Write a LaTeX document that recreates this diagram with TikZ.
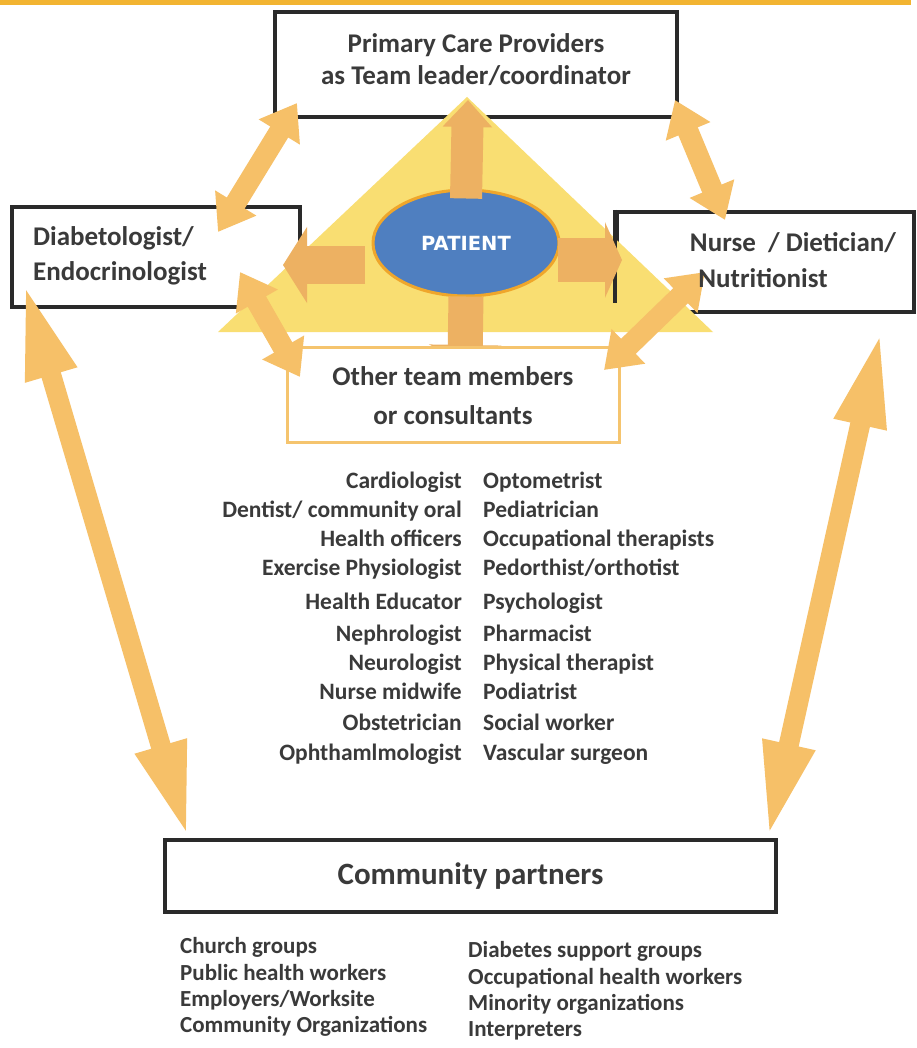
\documentclass[tikz,border=0pt]{standalone}
\usepackage{fontspec}
\setmainfont{Carlito}
\newfontfamily\patientfont{DejaVu Sans}
\usetikzlibrary{shapes.geometric}
\usetikzlibrary{arrows.meta}
\definecolor{goldn}{HTML}{F2B431}
\definecolor{trin}{HTML}{F9DE72}
\definecolor{pblue}{HTML}{4F7FC0}
\definecolor{pring}{HTML}{EFA62B}
\definecolor{arrowo}{HTML}{F6C068}
\definecolor{blocko}{HTML}{EDB162}
\definecolor{txtn}{HTML}{3A3A3A}
\definecolor{boxline}{HTML}{2A2A2A}
\definecolor{otherline}{HTML}{F5C46E}
\tikzset{
    boxn/.style = {rectangle, line width=4pt, draw=boxline, fill=white, inner sep=0pt},
    boxo/.style = {rectangle, line width=3pt, draw=otherline, fill=white, inner sep=0pt},
    patientn/.style = {ellipse, line width=3pt, draw=pring, fill=pblue, text=white, font=\patientfont\bfseries\fontsize{19.5}{23}\selectfont},
    labeln/.style = {inner sep=0pt, text=txtn, font=\bfseries\fontsize{27}{33}\selectfont},
    listn/.style = {inner sep=0pt, text=txtn, font=\bfseries\fontsize{23.5}{28}\selectfont},
    groupn/.style = {inner sep=0pt, text=txtn, font=\bfseries\fontsize{23}{27}\selectfont},
    edgeo/.style = {{Triangle[length=34pt,width=46pt]}-{Triangle[length=34pt,width=46pt]}, line width=21pt, arrowo}, % team
    edgel/.style = {{Triangle[length=96pt,width=48pt]}-{Triangle[length=96pt,width=48pt]}, line width=20pt, arrowo}, % community
    edgep/.style = {blocko} % from patient
}

\begin{document}
\begin{tikzpicture}[x=1pt, y=-1pt]
  \fill[white] (0,0) rectangle (916,1048);
  \useasboundingbox (0,0) rectangle (916,1048);
  \draw[goldn, line width=5pt] (0,3) -- (908,3) -- (908,-4);

  % boxes of the care team
  \node[boxn, minimum width=402pt, minimum height=105pt] (pcp) at (476,64.5) {};
  \node[boxn, minimum width=288pt, minimum height=100pt] (diab) at (156,257) {};
  \node[boxn, minimum width=297pt, minimum height=100pt] (nurse) at (765.5,262) {};

  \fill[trin] (467,97) -- (713,332) -- (218,332) -- cycle;
  \draw[boxline, line width=4pt] (nurse.north west) -- ([yshift=-93pt]nurse.north west);

  \node[patientn, minimum width=186pt, minimum height=106pt] (patient) at (466,243) {PATIENT};

  % arrow ends
  \coordinate (p-up) at (468,100);
  \coordinate (p-left) at (283,265);
  \coordinate (p-right) at (622,260);
  \coordinate (p-down) at (465,362);
  \coordinate (pcp-l) at (297,103);
  \coordinate (pcp-r) at (675,100);
  \coordinate (diab-t) at (218,232);
  \coordinate (diab-b) at (240,272);
  \coordinate (diab-l) at (24,283);
  \coordinate (nurse-t) at (725,220);
  \coordinate (nurse-b) at (705,272);
  \coordinate (nurse-r) at (881,331);
  \coordinate (other-l) at (300,377);
  \coordinate (other-r) at (604,370);
  \coordinate (comm-l) at (188,838);
  \coordinate (comm-r) at (768,838);

  \draw[edgep, line width=32pt, -{Triangle[length=27pt,width=48pt]}] ([yshift=-10pt]patient.north) -- (p-up);
  \draw[edgep, line width=38pt, -{Triangle[length=24pt,width=75pt]}] (365,265) -- (p-left);
  \draw[edgep, line width=44pt, -{Triangle[length=17pt,width=75pt]}] (558,260) -- (p-right);
  \draw[edgep, line width=35pt, -{Triangle[length=17pt,width=72pt]}] ([yshift=1pt]patient.south) -- (p-down);

  \node[boxo, minimum width=332pt, minimum height=95pt] (other) at (453,394.5) {};

  \draw[edgeo] (pcp-l) -- (diab-t);
  \draw[edgeo] (pcp-r) -- (nurse-t);
  \draw[edgeo] (diab-b) -- (other-l);
  \draw[edgeo] (nurse-b) -- (other-r);

  % box texts
  \node[labeln] (pcp-a) at (476,45) {Primary Care Providers};
  \node[labeln] (pcp-b) at (476,76) {as Team leader/coordinator};
  \node[labeln, anchor=mid west] (diab-a) at (33,243) {Diabetologist/};
  \node[labeln, anchor=mid west] (diab-b) at (33,278) {Endocrinologist};
  \node[labeln, anchor=mid] (nurse-a) at (793,249) {Nurse~ / Dietician/};
  \node[labeln, anchor=mid] (nurse-b) at (763,285) {Nutritionist};
  \node[labeln, anchor=mid] (other-a) at (453,383) {Other team members};
  \node[labeln, anchor=mid] (other-b) at (453,422) {or consultants};

  % consultants
  \node[listn, anchor=mid east] (c1) at (462,486) {Cardiologist};
  \node[listn, anchor=mid east] (c2) at (462,515) {Dentist/ community oral};
  \node[listn, anchor=mid east] (c3) at (462,544) {Health officers};
  \node[listn, anchor=mid east] (c4) at (462,573) {Exercise Physiologist};
  \node[listn, anchor=mid east] (c5) at (462,607) {Health Educator};
  \node[listn, anchor=mid east] (c6) at (462,639) {Nephrologist};
  \node[listn, anchor=mid east] (c7) at (462,668) {Neurologist};
  \node[listn, anchor=mid east] (c8) at (462,697) {Nurse midwife};
  \node[listn, anchor=mid east] (c9) at (462,728) {Obstetrician};
  \node[listn, anchor=mid east] (c10) at (462,758) {Ophthamlmologist};
  \node[listn, anchor=mid west] (d1) at (483,486) {Optometrist};
  \node[listn, anchor=mid west] (d2) at (483,515) {Pediatrician};
  \node[listn, anchor=mid west] (d3) at (483,544) {Occupational therapists};
  \node[listn, anchor=mid west] (d4) at (483,573) {Pedorthist/orthotist};
  \node[listn, anchor=mid west] (d5) at (483,607) {Psychologist};
  \node[listn, anchor=mid west] (d6) at (483,639) {Pharmacist};
  \node[listn, anchor=mid west] (d7) at (483,668) {Physical therapist};
  \node[listn, anchor=mid west] (d8) at (483,697) {Podiatrist};
  \node[listn, anchor=mid west] (d9) at (483,728) {Social worker};
  \node[listn, anchor=mid west] (d10) at (483,758) {Vascular surgeon};

  % community
  \node[boxn, minimum width=611pt, minimum height=72pt, font=\bfseries\fontsize{31}{37}\selectfont, text=txtn] (comm) at (470.5,876) {Community partners};
  \draw[edgel] (diab-l) -- (comm-l);
  \draw[edgel] (nurse-r) -- (comm-r);

  \node[groupn, anchor=mid west] (g1) at (180,951) {Church groups};
  \node[groupn, anchor=mid west] (g2) at (180,978) {Public health workers};
  \node[groupn, anchor=mid west] (g3) at (180,1004) {Employers/Worksite};
  \node[groupn, anchor=mid west] (g4) at (180,1030) {Community Organizations};
  \node[groupn, anchor=mid west] (h1) at (468,955) {Diabetes support groups};
  \node[groupn, anchor=mid west] (h2) at (468,982) {Occupational health workers};
  \node[groupn, anchor=mid west] (h3) at (468,1008) {Minority organizations};
  \node[groupn, anchor=mid west] (h4) at (468,1034) {Interpreters};
\end{tikzpicture}
\end{document}
